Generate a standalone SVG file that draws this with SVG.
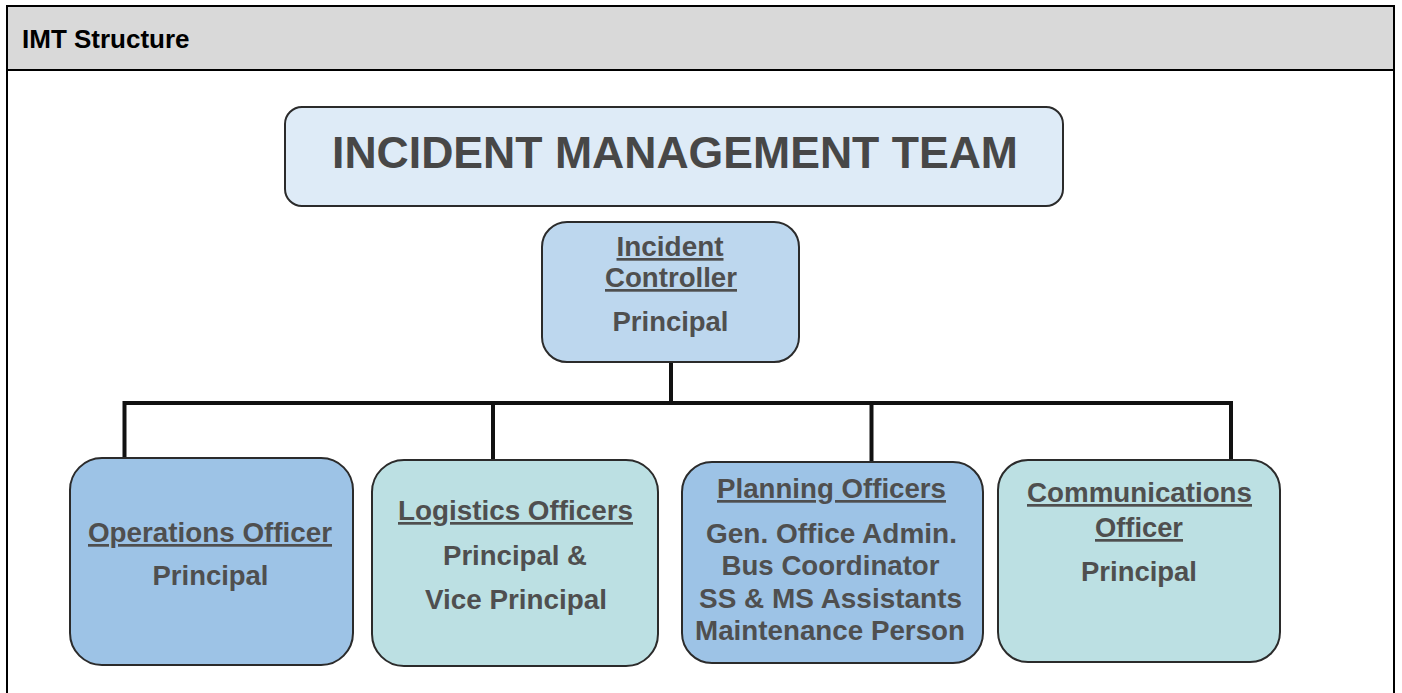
<svg xmlns="http://www.w3.org/2000/svg" width="1402" height="693" viewBox="0 0 1402 693">
  <style>
    .frame { stroke: #000; stroke-width: 2; fill: none; }
    .box { stroke: #2b2b2b; stroke-width: 2; }
    .blue { fill: #9dc3e6; }
    .teal { fill: #bce0e3; }
    .ctrl { fill: #bdd7ee; }
    .title { fill: #deebf7; }
    .t { font-family: "Liberation Sans", Arial, sans-serif; font-weight: bold; font-size: 27px; fill: #4f4f4f; text-anchor: middle; }
    .u { text-decoration: underline; }
    .conn { stroke: #111; stroke-width: 4; fill: none; stroke-linejoin: miter; }
  </style>

  <g id="frame">
    <rect x="7" y="6" width="1387" height="64" fill="#d9d9d9"/>
    <path class="frame" d="M7,693 V6 H1394 V693"/>
    <line class="frame" x1="7" y1="70" x2="1394" y2="70"/>
    <text x="22" y="48" font-family="Liberation Sans, Arial, sans-serif" font-weight="bold" font-size="26" fill="#000">IMT Structure</text>
  </g>

  <g id="connectors">
    <line class="conn" x1="671" y1="362" x2="671" y2="403"/>
    <path class="conn" d="M124.5,457 V403 H1231 V460"/>
    <line class="conn" x1="493" y1="403" x2="493" y2="460"/>
    <line class="conn" x1="871.5" y1="403" x2="871.5" y2="462"/>
  </g>

  <g id="node-imt">
    <rect class="box title" x="285" y="107" width="778" height="99" rx="17"/>
    <text class="t" x="675" y="168" font-size="45" fill="#474747" textLength="686" lengthAdjust="spacingAndGlyphs" style="font-size:45px;fill:#474747">INCIDENT MANAGEMENT TEAM</text>
  </g>

  <g id="node-controller">
    <rect class="box ctrl" x="542" y="222" width="257" height="140" rx="25"/>
    <text class="t u" x="670" y="256" textLength="107" lengthAdjust="spacingAndGlyphs">Incident</text>
    <text class="t u" x="671" y="287" textLength="132" lengthAdjust="spacingAndGlyphs">Controller</text>
    <text class="t" x="670.5" y="331" textLength="116" lengthAdjust="spacingAndGlyphs">Principal</text>
  </g>

  <g id="node-operations">
    <rect class="box blue" x="70" y="458" width="283" height="207" rx="32"/>
    <text class="t u" x="210" y="542" textLength="244" lengthAdjust="spacingAndGlyphs">Operations Officer</text>
    <text class="t" x="210.5" y="585" textLength="116" lengthAdjust="spacingAndGlyphs">Principal</text>
  </g>

  <g id="node-logistics">
    <rect class="box teal" x="372" y="460" width="286" height="206" rx="32"/>
    <text class="t u" x="515.5" y="520" textLength="235" lengthAdjust="spacingAndGlyphs">Logistics Officers</text>
    <text class="t" x="515" y="565" textLength="144" lengthAdjust="spacingAndGlyphs">Principal &amp;</text>
    <text class="t" x="516" y="609" textLength="182" lengthAdjust="spacingAndGlyphs">Vice Principal</text>
  </g>

  <g id="node-planning">
    <rect class="box blue" x="682" y="462" width="301" height="201" rx="30"/>
    <text class="t u" x="831.5" y="498" textLength="229" lengthAdjust="spacingAndGlyphs">Planning Officers</text>
    <text class="t" x="831.5" y="543" textLength="251" lengthAdjust="spacingAndGlyphs">Gen. Office Admin.</text>
    <text class="t" x="830.5" y="575" textLength="218" lengthAdjust="spacingAndGlyphs">Bus Coordinator</text>
    <text class="t" x="830.5" y="608" textLength="263" lengthAdjust="spacingAndGlyphs">SS &amp; MS Assistants</text>
    <text class="t" x="830" y="640" textLength="270" lengthAdjust="spacingAndGlyphs">Maintenance Person</text>
  </g>

  <g id="node-communications">
    <rect class="box teal" x="998" y="460" width="282" height="202" rx="30"/>
    <text class="t u" x="1139.5" y="502" textLength="225" lengthAdjust="spacingAndGlyphs">Communications</text>
    <text class="t u" x="1139" y="537" textLength="88" lengthAdjust="spacingAndGlyphs">Officer</text>
    <text class="t" x="1139" y="581" textLength="116" lengthAdjust="spacingAndGlyphs">Principal</text>
  </g>
</svg>
